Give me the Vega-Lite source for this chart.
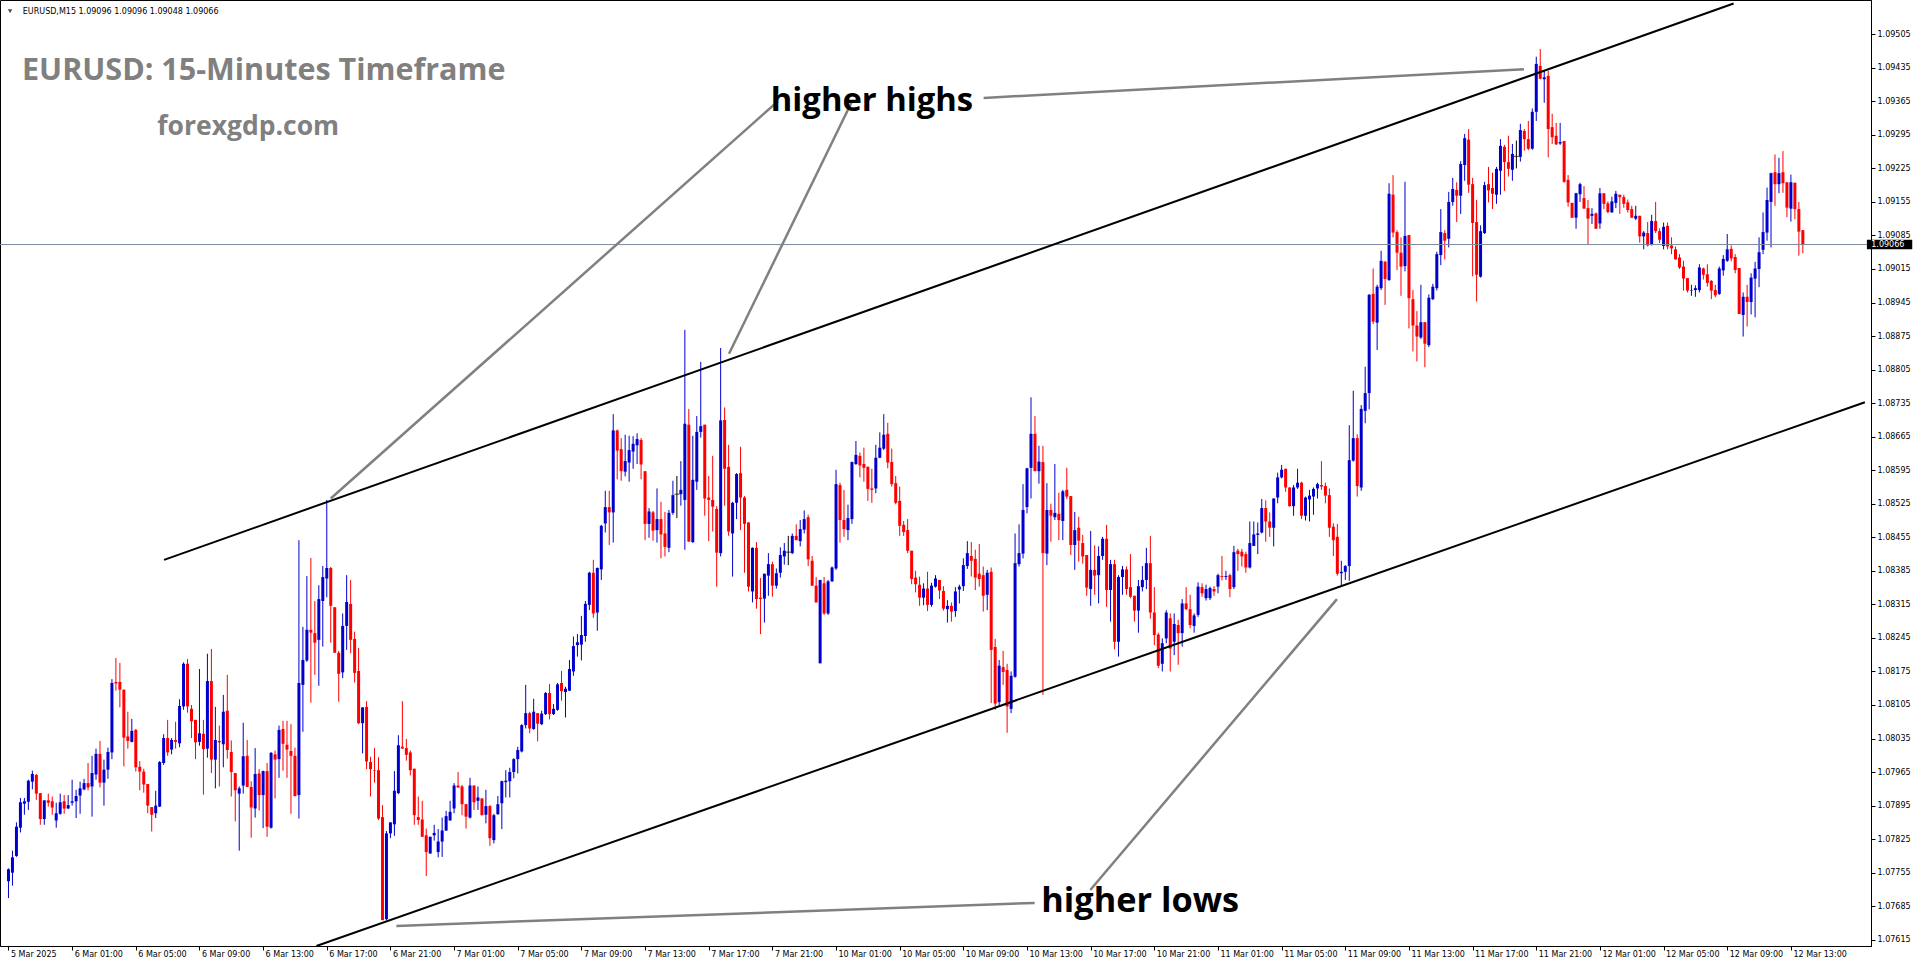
{
"$schema":"https://vega.github.io/schema/vega-lite/v6.json",
"width":1871,"height":946,
"autosize":{"type":"none"},
"padding":{"left":0,"top":0,"right":45,"bottom":18},
"background":"#ffffff",
"config":{"view":{"stroke":"#000000","strokeWidth":1},"axis":{"grid":false,"labelOverlap":false,"labelSeparation":0},"axisY":{"labelOverlap":false},"axisRight":{"labelOverlap":false}},
"datasets":{
"candles":[
{"i":0,"d":"u","o":1.07737,"h":1.07764,"l":1.07702,"c":1.07762},
{"i":1,"d":"u","o":1.07755,"h":1.07801,"l":1.07728,"c":1.07787},
{"i":2,"d":"u","o":1.07790,"h":1.07860,"l":1.07788,"c":1.07851},
{"i":3,"d":"u","o":1.07849,"h":1.07911,"l":1.07839,"c":1.07902},
{"i":4,"d":"u","o":1.07899,"h":1.07911,"l":1.07876,"c":1.07904},
{"i":5,"d":"u","o":1.07903,"h":1.07949,"l":1.07886,"c":1.07947},
{"i":6,"d":"u","o":1.07945,"h":1.07968,"l":1.07929,"c":1.07961},
{"i":7,"d":"d","o":1.07959,"h":1.07961,"l":1.07907,"c":1.07920},
{"i":8,"d":"d","o":1.07921,"h":1.07921,"l":1.07855,"c":1.07867},
{"i":9,"d":"u","o":1.07867,"h":1.07906,"l":1.07855,"c":1.07906},
{"i":10,"d":"d","o":1.07906,"h":1.07920,"l":1.07893,"c":1.07901},
{"i":11,"d":"d","o":1.07904,"h":1.07914,"l":1.07876,"c":1.07891},
{"i":12,"d":"u","o":1.07864,"h":1.07901,"l":1.07849,"c":1.07879},
{"i":13,"d":"u","o":1.07878,"h":1.07920,"l":1.07876,"c":1.07902},
{"i":14,"d":"d","o":1.07904,"h":1.07917,"l":1.07878,"c":1.07889},
{"i":15,"d":"u","o":1.07889,"h":1.07917,"l":1.07888,"c":1.07896},
{"i":16,"d":"u","o":1.07901,"h":1.07949,"l":1.07895,"c":1.07904},
{"i":17,"d":"u","o":1.07904,"h":1.07928,"l":1.07869,"c":1.07915},
{"i":18,"d":"u","o":1.07916,"h":1.07945,"l":1.07878,"c":1.07931},
{"i":19,"d":"u","o":1.07929,"h":1.07951,"l":1.07927,"c":1.07942},
{"i":20,"d":"d","o":1.07942,"h":1.07984,"l":1.07927,"c":1.07933},
{"i":21,"d":"u","o":1.07935,"h":1.07999,"l":1.07872,"c":1.07963},
{"i":22,"d":"u","o":1.07960,"h":1.08014,"l":1.07949,"c":1.08003},
{"i":23,"d":"d","o":1.08003,"h":1.08030,"l":1.07933,"c":1.07943},
{"i":24,"d":"u","o":1.07943,"h":1.07991,"l":1.07895,"c":1.07970},
{"i":25,"d":"u","o":1.07970,"h":1.08016,"l":1.07951,"c":1.08007},
{"i":26,"d":"u","o":1.08006,"h":1.08159,"l":1.07992,"c":1.08151},
{"i":27,"d":"d","o":1.08153,"h":1.08203,"l":1.08135,"c":1.08150},
{"i":28,"d":"d","o":1.08153,"h":1.08193,"l":1.08100,"c":1.08137},
{"i":29,"d":"d","o":1.08137,"h":1.08137,"l":1.07977,"c":1.08037},
{"i":30,"d":"d","o":1.08039,"h":1.08091,"l":1.08014,"c":1.08030},
{"i":31,"d":"u","o":1.08028,"h":1.08076,"l":1.08027,"c":1.08051},
{"i":32,"d":"d","o":1.08053,"h":1.08055,"l":1.07966,"c":1.07975},
{"i":33,"d":"d","o":1.07976,"h":1.07988,"l":1.07927,"c":1.07966},
{"i":34,"d":"d","o":1.07966,"h":1.07972,"l":1.07922,"c":1.07939},
{"i":35,"d":"d","o":1.07940,"h":1.07940,"l":1.07879,"c":1.07895},
{"i":36,"d":"d","o":1.07892,"h":1.07892,"l":1.07841,"c":1.07876},
{"i":37,"d":"u","o":1.07879,"h":1.07926,"l":1.07869,"c":1.07895},
{"i":38,"d":"u","o":1.07893,"h":1.07988,"l":1.07892,"c":1.07986},
{"i":39,"d":"u","o":1.07984,"h":1.08044,"l":1.07980,"c":1.08036},
{"i":40,"d":"d","o":1.08036,"h":1.08074,"l":1.07999,"c":1.08006},
{"i":41,"d":"u","o":1.08012,"h":1.08036,"l":1.08002,"c":1.08032},
{"i":42,"d":"d","o":1.08032,"h":1.08070,"l":1.08014,"c":1.08028},
{"i":43,"d":"u","o":1.08025,"h":1.08117,"l":1.08017,"c":1.08103},
{"i":44,"d":"u","o":1.08102,"h":1.08194,"l":1.08095,"c":1.08191},
{"i":45,"d":"d","o":1.08191,"h":1.08201,"l":1.08089,"c":1.08102},
{"i":46,"d":"d","o":1.08097,"h":1.08105,"l":1.08036,"c":1.08071},
{"i":47,"d":"d","o":1.08074,"h":1.08074,"l":1.07992,"c":1.08027},
{"i":48,"d":"u","o":1.08028,"h":1.08180,"l":1.08020,"c":1.08046},
{"i":49,"d":"d","o":1.08045,"h":1.08074,"l":1.07918,"c":1.08013},
{"i":50,"d":"u","o":1.08014,"h":1.08212,"l":1.07995,"c":1.08155},
{"i":51,"d":"d","o":1.08155,"h":1.08222,"l":1.07963,"c":1.07991},
{"i":52,"d":"u","o":1.07991,"h":1.08101,"l":1.07931,"c":1.08032},
{"i":53,"d":"d","o":1.08030,"h":1.08062,"l":1.07935,"c":1.08027},
{"i":54,"d":"u","o":1.08023,"h":1.08126,"l":1.07975,"c":1.08091},
{"i":55,"d":"d","o":1.08093,"h":1.08168,"l":1.07993,"c":1.08011},
{"i":56,"d":"d","o":1.08007,"h":1.08031,"l":1.07914,"c":1.07965},
{"i":57,"d":"d","o":1.07963,"h":1.07963,"l":1.07862,"c":1.07927},
{"i":58,"d":"u","o":1.07920,"h":1.07935,"l":1.07801,"c":1.07931},
{"i":59,"d":"u","o":1.07937,"h":1.08068,"l":1.07920,"c":1.07998},
{"i":60,"d":"d","o":1.07999,"h":1.08032,"l":1.07934,"c":1.07934},
{"i":61,"d":"d","o":1.07934,"h":1.07946,"l":1.07828,"c":1.07891},
{"i":62,"d":"u","o":1.07889,"h":1.08015,"l":1.07870,"c":1.07961},
{"i":63,"d":"d","o":1.07962,"h":1.07971,"l":1.07885,"c":1.07917},
{"i":64,"d":"u","o":1.07917,"h":1.07968,"l":1.07848,"c":1.07967},
{"i":65,"d":"d","o":1.07967,"h":1.07984,"l":1.07830,"c":1.07851},
{"i":66,"d":"u","o":1.07849,"h":1.08007,"l":1.07847,"c":1.08005},
{"i":67,"d":"d","o":1.08002,"h":1.08010,"l":1.07910,"c":1.07991},
{"i":68,"d":"u","o":1.07992,"h":1.08062,"l":1.07953,"c":1.08053},
{"i":69,"d":"d","o":1.08055,"h":1.08072,"l":1.07968,"c":1.08024},
{"i":70,"d":"d","o":1.08022,"h":1.08072,"l":1.07953,"c":1.08012},
{"i":71,"d":"d","o":1.08009,"h":1.08065,"l":1.07878,"c":1.07999},
{"i":72,"d":"d","o":1.07999,"h":1.08016,"l":1.07914,"c":1.07915},
{"i":73,"d":"u","o":1.07917,"h":1.08449,"l":1.07868,"c":1.08151},
{"i":74,"d":"u","o":1.08147,"h":1.08268,"l":1.08049,"c":1.08199},
{"i":75,"d":"u","o":1.08198,"h":1.08374,"l":1.08195,"c":1.08262},
{"i":76,"d":"d","o":1.08262,"h":1.08412,"l":1.08110,"c":1.08256},
{"i":77,"d":"d","o":1.08255,"h":1.08322,"l":1.08168,"c":1.08235},
{"i":78,"d":"u","o":1.08241,"h":1.08355,"l":1.08145,"c":1.08326},
{"i":79,"d":"u","o":1.08322,"h":1.08395,"l":1.08227,"c":1.08372},
{"i":80,"d":"u","o":1.08369,"h":1.08533,"l":1.08330,"c":1.08391},
{"i":81,"d":"d","o":1.08391,"h":1.08393,"l":1.08235,"c":1.08312},
{"i":82,"d":"d","o":1.08309,"h":1.08309,"l":1.08214,"c":1.08214},
{"i":83,"d":"d","o":1.08214,"h":1.08218,"l":1.08112,"c":1.08170},
{"i":84,"d":"u","o":1.08173,"h":1.08296,"l":1.08161,"c":1.08270},
{"i":85,"d":"u","o":1.08270,"h":1.08376,"l":1.08220,"c":1.08320},
{"i":86,"d":"d","o":1.08316,"h":1.08366,"l":1.08213,"c":1.08241},
{"i":87,"d":"d","o":1.08243,"h":1.08258,"l":1.08152,"c":1.08172},
{"i":88,"d":"d","o":1.08176,"h":1.08224,"l":1.08065,"c":1.08067},
{"i":89,"d":"u","o":1.08067,"h":1.08100,"l":1.08004,"c":1.08100},
{"i":90,"d":"d","o":1.08101,"h":1.08113,"l":1.07971,"c":1.07987},
{"i":91,"d":"d","o":1.07986,"h":1.07997,"l":1.07914,"c":1.07971},
{"i":92,"d":"d","o":1.07969,"h":1.08015,"l":1.07943,"c":1.07968},
{"i":93,"d":"d","o":1.07969,"h":1.07996,"l":1.07865,"c":1.07868},
{"i":94,"d":"d","o":1.07871,"h":1.07896,"l":1.07656,"c":1.07656},
{"i":95,"d":"u","o":1.07658,"h":1.07842,"l":1.07656,"c":1.07837},
{"i":96,"d":"u","o":1.07837,"h":1.07860,"l":1.07827,"c":1.07860},
{"i":97,"d":"u","o":1.07856,"h":1.07967,"l":1.07832,"c":1.07926},
{"i":98,"d":"u","o":1.07921,"h":1.08042,"l":1.07919,"c":1.08021},
{"i":99,"d":"d","o":1.08018,"h":1.08113,"l":1.08014,"c":1.08014},
{"i":100,"d":"d","o":1.08015,"h":1.08034,"l":1.07989,"c":1.08001},
{"i":101,"d":"d","o":1.08006,"h":1.08010,"l":1.07958,"c":1.07969},
{"i":102,"d":"d","o":1.07972,"h":1.07972,"l":1.07855,"c":1.07875},
{"i":103,"d":"d","o":1.07871,"h":1.07914,"l":1.07855,"c":1.07865},
{"i":104,"d":"d","o":1.07866,"h":1.07905,"l":1.07830,"c":1.07830},
{"i":105,"d":"d","o":1.07833,"h":1.07847,"l":1.07748,"c":1.07798},
{"i":106,"d":"u","o":1.07795,"h":1.07830,"l":1.07795,"c":1.07830},
{"i":107,"d":"u","o":1.07833,"h":1.07855,"l":1.07822,"c":1.07838},
{"i":108,"d":"u","o":1.07798,"h":1.07846,"l":1.07787,"c":1.07820},
{"i":109,"d":"u","o":1.07820,"h":1.07870,"l":1.07788,"c":1.07843},
{"i":110,"d":"u","o":1.07843,"h":1.07884,"l":1.07842,"c":1.07873},
{"i":111,"d":"u","o":1.07864,"h":1.07905,"l":1.07864,"c":1.07882},
{"i":112,"d":"u","o":1.07889,"h":1.07942,"l":1.07879,"c":1.07937},
{"i":113,"d":"d","o":1.07937,"h":1.07965,"l":1.07932,"c":1.07933},
{"i":114,"d":"d","o":1.07935,"h":1.07938,"l":1.07875,"c":1.07898},
{"i":115,"d":"d","o":1.07898,"h":1.07898,"l":1.07847,"c":1.07872},
{"i":116,"d":"u","o":1.07870,"h":1.07953,"l":1.07868,"c":1.07937},
{"i":117,"d":"d","o":1.07937,"h":1.07937,"l":1.07886,"c":1.07902},
{"i":118,"d":"u","o":1.07905,"h":1.07935,"l":1.07886,"c":1.07912},
{"i":119,"d":"d","o":1.07910,"h":1.07910,"l":1.07875,"c":1.07875},
{"i":120,"d":"u","o":1.07876,"h":1.07928,"l":1.07858,"c":1.07894},
{"i":121,"d":"d","o":1.07894,"h":1.07896,"l":1.07811,"c":1.07827},
{"i":122,"d":"u","o":1.07823,"h":1.07878,"l":1.07816,"c":1.07875},
{"i":123,"d":"u","o":1.07877,"h":1.07915,"l":1.07876,"c":1.07898},
{"i":124,"d":"u","o":1.07900,"h":1.07947,"l":1.07846,"c":1.07946},
{"i":125,"d":"u","o":1.07944,"h":1.07969,"l":1.07912,"c":1.07947},
{"i":126,"d":"u","o":1.07946,"h":1.07974,"l":1.07912,"c":1.07965},
{"i":127,"d":"u","o":1.07965,"h":1.07994,"l":1.07952,"c":1.07992},
{"i":128,"d":"u","o":1.07992,"h":1.08018,"l":1.07962,"c":1.08011},
{"i":129,"d":"u","o":1.08008,"h":1.08065,"l":1.08006,"c":1.08063},
{"i":130,"d":"u","o":1.08063,"h":1.08147,"l":1.08056,"c":1.08088},
{"i":131,"d":"d","o":1.08088,"h":1.08091,"l":1.08046,"c":1.08056},
{"i":132,"d":"u","o":1.08055,"h":1.08118,"l":1.08053,"c":1.08091},
{"i":133,"d":"d","o":1.08088,"h":1.08088,"l":1.08029,"c":1.08066},
{"i":134,"d":"u","o":1.08065,"h":1.08093,"l":1.08063,"c":1.08087},
{"i":135,"d":"u","o":1.08086,"h":1.08132,"l":1.08084,"c":1.08130},
{"i":136,"d":"d","o":1.08130,"h":1.08149,"l":1.08075,"c":1.08086},
{"i":137,"d":"u","o":1.08086,"h":1.08107,"l":1.08084,"c":1.08097},
{"i":138,"d":"u","o":1.08095,"h":1.08151,"l":1.08093,"c":1.08148},
{"i":139,"d":"d","o":1.08151,"h":1.08176,"l":1.08114,"c":1.08134},
{"i":140,"d":"u","o":1.08132,"h":1.08143,"l":1.08079,"c":1.08139},
{"i":141,"d":"u","o":1.08135,"h":1.08199,"l":1.08134,"c":1.08180},
{"i":142,"d":"u","o":1.08175,"h":1.08248,"l":1.08166,"c":1.08228},
{"i":143,"d":"u","o":1.08230,"h":1.08253,"l":1.08206,"c":1.08236},
{"i":144,"d":"u","o":1.08231,"h":1.08291,"l":1.08198,"c":1.08251},
{"i":145,"d":"u","o":1.08249,"h":1.08322,"l":1.08237,"c":1.08316},
{"i":146,"d":"u","o":1.08314,"h":1.08383,"l":1.08303,"c":1.08381},
{"i":147,"d":"d","o":1.08381,"h":1.08408,"l":1.08287,"c":1.08296},
{"i":148,"d":"u","o":1.08298,"h":1.08392,"l":1.08260,"c":1.08391},
{"i":149,"d":"u","o":1.08388,"h":1.08481,"l":1.08366,"c":1.08479},
{"i":150,"d":"u","o":1.08484,"h":1.08552,"l":1.08465,"c":1.08518},
{"i":151,"d":"d","o":1.08518,"h":1.08552,"l":1.08439,"c":1.08507},
{"i":152,"d":"u","o":1.08507,"h":1.08712,"l":1.08444,"c":1.08678},
{"i":153,"d":"d","o":1.08678,"h":1.08680,"l":1.08576,"c":1.08636},
{"i":154,"d":"d","o":1.08639,"h":1.08662,"l":1.08573,"c":1.08593},
{"i":155,"d":"u","o":1.08592,"h":1.08669,"l":1.08582,"c":1.08614},
{"i":156,"d":"u","o":1.08611,"h":1.08667,"l":1.08571,"c":1.08637},
{"i":157,"d":"u","o":1.08634,"h":1.08666,"l":1.08598,"c":1.08650},
{"i":158,"d":"u","o":1.08647,"h":1.08672,"l":1.08608,"c":1.08660},
{"i":159,"d":"d","o":1.08658,"h":1.08662,"l":1.08576,"c":1.08607},
{"i":160,"d":"d","o":1.08593,"h":1.08593,"l":1.08449,"c":1.08483},
{"i":161,"d":"u","o":1.08483,"h":1.08516,"l":1.08454,"c":1.08509},
{"i":162,"d":"d","o":1.08507,"h":1.08510,"l":1.08448,"c":1.08469},
{"i":163,"d":"u","o":1.08470,"h":1.08557,"l":1.08444,"c":1.08493},
{"i":164,"d":"d","o":1.08493,"h":1.08529,"l":1.08411,"c":1.08461},
{"i":165,"d":"d","o":1.08463,"h":1.08508,"l":1.08415,"c":1.08435},
{"i":166,"d":"u","o":1.08433,"h":1.08512,"l":1.08424,"c":1.08506},
{"i":167,"d":"u","o":1.08506,"h":1.08573,"l":1.08502,"c":1.08543},
{"i":168,"d":"z","o":1.08545,"h":1.08583,"l":1.08495,"c":1.08545},
{"i":169,"d":"u","o":1.08545,"h":1.08614,"l":1.08521,"c":1.08554},
{"i":170,"d":"u","o":1.08533,"h":1.08888,"l":1.08429,"c":1.08692},
{"i":171,"d":"d","o":1.08690,"h":1.08723,"l":1.08446,"c":1.08446},
{"i":172,"d":"u","o":1.08445,"h":1.08667,"l":1.08443,"c":1.08575},
{"i":173,"d":"u","o":1.08571,"h":1.08708,"l":1.08554,"c":1.08675},
{"i":174,"d":"u","o":1.08675,"h":1.08821,"l":1.08663,"c":1.08687},
{"i":175,"d":"d","o":1.08690,"h":1.08690,"l":1.08500,"c":1.08536},
{"i":176,"d":"d","o":1.08538,"h":1.08583,"l":1.08447,"c":1.08533},
{"i":177,"d":"d","o":1.08533,"h":1.08625,"l":1.08467,"c":1.08519},
{"i":178,"d":"d","o":1.08514,"h":1.08520,"l":1.08352,"c":1.08423},
{"i":179,"d":"u","o":1.08422,"h":1.08850,"l":1.08415,"c":1.08699},
{"i":180,"d":"d","o":1.08700,"h":1.08726,"l":1.08521,"c":1.08598},
{"i":181,"d":"d","o":1.08602,"h":1.08648,"l":1.08458,"c":1.08467},
{"i":182,"d":"u","o":1.08463,"h":1.08529,"l":1.08373,"c":1.08527},
{"i":183,"d":"u","o":1.08527,"h":1.08589,"l":1.08493,"c":1.08587},
{"i":184,"d":"d","o":1.08589,"h":1.08644,"l":1.08470,"c":1.08538},
{"i":185,"d":"d","o":1.08538,"h":1.08541,"l":1.08381,"c":1.08483},
{"i":186,"d":"d","o":1.08486,"h":1.08486,"l":1.08342,"c":1.08352},
{"i":187,"d":"u","o":1.08342,"h":1.08434,"l":1.08319,"c":1.08433},
{"i":188,"d":"d","o":1.08433,"h":1.08445,"l":1.08306,"c":1.08326},
{"i":189,"d":"d","o":1.08329,"h":1.08370,"l":1.08253,"c":1.08326},
{"i":190,"d":"u","o":1.08327,"h":1.08379,"l":1.08277,"c":1.08379},
{"i":191,"d":"u","o":1.08375,"h":1.08422,"l":1.08333,"c":1.08399},
{"i":192,"d":"d","o":1.08399,"h":1.08404,"l":1.08331,"c":1.08354},
{"i":193,"d":"u","o":1.08354,"h":1.08390,"l":1.08348,"c":1.08380},
{"i":194,"d":"u","o":1.08381,"h":1.08434,"l":1.08371,"c":1.08418},
{"i":195,"d":"u","o":1.08415,"h":1.08443,"l":1.08398,"c":1.08427},
{"i":196,"d":"z","o":1.08424,"h":1.08458,"l":1.08397,"c":1.08424},
{"i":197,"d":"u","o":1.08422,"h":1.08463,"l":1.08420,"c":1.08458},
{"i":198,"d":"d","o":1.08458,"h":1.08482,"l":1.08449,"c":1.08449},
{"i":199,"d":"u","o":1.08447,"h":1.08491,"l":1.08436,"c":1.08472},
{"i":200,"d":"u","o":1.08471,"h":1.08511,"l":1.08463,"c":1.08493},
{"i":201,"d":"d","o":1.08497,"h":1.08502,"l":1.08395,"c":1.08409},
{"i":202,"d":"d","o":1.08406,"h":1.08416,"l":1.08354,"c":1.08354},
{"i":203,"d":"d","o":1.08354,"h":1.08372,"l":1.08319,"c":1.08319},
{"i":204,"d":"u","o":1.08192,"h":1.08366,"l":1.08192,"c":1.08366},
{"i":205,"d":"d","o":1.08359,"h":1.08372,"l":1.08293,"c":1.08296},
{"i":206,"d":"u","o":1.08296,"h":1.08366,"l":1.08293,"c":1.08363},
{"i":207,"d":"u","o":1.08363,"h":1.08394,"l":1.08362,"c":1.08392},
{"i":208,"d":"u","o":1.08390,"h":1.08596,"l":1.08387,"c":1.08566},
{"i":209,"d":"d","o":1.08564,"h":1.08569,"l":1.08444,"c":1.08491},
{"i":210,"d":"d","o":1.08491,"h":1.08554,"l":1.08456,"c":1.08472},
{"i":211,"d":"u","o":1.08470,"h":1.08523,"l":1.08449,"c":1.08495},
{"i":212,"d":"u","o":1.08493,"h":1.08613,"l":1.08483,"c":1.08612},
{"i":213,"d":"u","o":1.08608,"h":1.08656,"l":1.08606,"c":1.08627},
{"i":214,"d":"d","o":1.08625,"h":1.08632,"l":1.08580,"c":1.08605},
{"i":215,"d":"d","o":1.08608,"h":1.08642,"l":1.08571,"c":1.08600},
{"i":216,"d":"d","o":1.08602,"h":1.08603,"l":1.08531,"c":1.08556},
{"i":217,"d":"d","o":1.08557,"h":1.08598,"l":1.08527,"c":1.08554},
{"i":218,"d":"u","o":1.08557,"h":1.08648,"l":1.08547,"c":1.08621},
{"i":219,"d":"u","o":1.08621,"h":1.08674,"l":1.08620,"c":1.08642},
{"i":220,"d":"u","o":1.08640,"h":1.08712,"l":1.08637,"c":1.08669},
{"i":221,"d":"d","o":1.08671,"h":1.08694,"l":1.08599,"c":1.08611},
{"i":222,"d":"d","o":1.08612,"h":1.08640,"l":1.08561,"c":1.08566},
{"i":223,"d":"d","o":1.08568,"h":1.08583,"l":1.08524,"c":1.08527},
{"i":224,"d":"d","o":1.08531,"h":1.08561,"l":1.08458,"c":1.08479},
{"i":225,"d":"d","o":1.08481,"h":1.08489,"l":1.08458,"c":1.08466},
{"i":226,"d":"d","o":1.08470,"h":1.08493,"l":1.08422,"c":1.08427},
{"i":227,"d":"d","o":1.08427,"h":1.08427,"l":1.08357,"c":1.08368},
{"i":228,"d":"d","o":1.08371,"h":1.08385,"l":1.08340,"c":1.08357},
{"i":229,"d":"d","o":1.08356,"h":1.08373,"l":1.08312,"c":1.08329},
{"i":230,"d":"u","o":1.08329,"h":1.08359,"l":1.08313,"c":1.08348},
{"i":231,"d":"d","o":1.08348,"h":1.08383,"l":1.08301,"c":1.08314},
{"i":232,"d":"u","o":1.08314,"h":1.08360,"l":1.08310,"c":1.08354},
{"i":233,"d":"u","o":1.08352,"h":1.08376,"l":1.08350,"c":1.08369},
{"i":234,"d":"d","o":1.08366,"h":1.08366,"l":1.08326,"c":1.08344},
{"i":235,"d":"d","o":1.08343,"h":1.08353,"l":1.08302,"c":1.08306},
{"i":236,"d":"u","o":1.08305,"h":1.08324,"l":1.08277,"c":1.08312},
{"i":237,"d":"d","o":1.08312,"h":1.08319,"l":1.08279,"c":1.08300},
{"i":238,"d":"u","o":1.08301,"h":1.08351,"l":1.08289,"c":1.08342},
{"i":239,"d":"u","o":1.08346,"h":1.08356,"l":1.08317,"c":1.08352},
{"i":240,"d":"u","o":1.08353,"h":1.08411,"l":1.08343,"c":1.08397},
{"i":241,"d":"u","o":1.08395,"h":1.08447,"l":1.08389,"c":1.08422},
{"i":242,"d":"d","o":1.08416,"h":1.08445,"l":1.08373,"c":1.08406},
{"i":243,"d":"d","o":1.08410,"h":1.08429,"l":1.08345,"c":1.08371},
{"i":244,"d":"d","o":1.08379,"h":1.08441,"l":1.08352,"c":1.08368},
{"i":245,"d":"d","o":1.08376,"h":1.08394,"l":1.08300,"c":1.08333},
{"i":246,"d":"u","o":1.08335,"h":1.08387,"l":1.08303,"c":1.08381},
{"i":247,"d":"d","o":1.08383,"h":1.08392,"l":1.08109,"c":1.08220},
{"i":248,"d":"d","o":1.08226,"h":1.08243,"l":1.08095,"c":1.08108},
{"i":249,"d":"u","o":1.08111,"h":1.08199,"l":1.08102,"c":1.08187},
{"i":250,"d":"d","o":1.08184,"h":1.08218,"l":1.08147,"c":1.08174},
{"i":251,"d":"d","o":1.08178,"h":1.08191,"l":1.08047,"c":1.08102},
{"i":252,"d":"u","o":1.08097,"h":1.08175,"l":1.08088,"c":1.08166},
{"i":253,"d":"u","o":1.08164,"h":1.08463,"l":1.08162,"c":1.08401},
{"i":254,"d":"u","o":1.08399,"h":1.08482,"l":1.08394,"c":1.08422},
{"i":255,"d":"u","o":1.08421,"h":1.08566,"l":1.08411,"c":1.08512},
{"i":256,"d":"u","o":1.08518,"h":1.08600,"l":1.08505,"c":1.08599},
{"i":257,"d":"u","o":1.08600,"h":1.08747,"l":1.08536,"c":1.08671},
{"i":258,"d":"d","o":1.08671,"h":1.08708,"l":1.08593,"c":1.08593},
{"i":259,"d":"u","o":1.08593,"h":1.08646,"l":1.08567,"c":1.08613},
{"i":260,"d":"d","o":1.08612,"h":1.08646,"l":1.08126,"c":1.08422},
{"i":261,"d":"u","o":1.08421,"h":1.08568,"l":1.08397,"c":1.08512},
{"i":262,"d":"d","o":1.08512,"h":1.08525,"l":1.08446,"c":1.08500},
{"i":263,"d":"u","o":1.08497,"h":1.08608,"l":1.08491,"c":1.08506},
{"i":264,"d":"d","o":1.08504,"h":1.08548,"l":1.08449,"c":1.08491},
{"i":265,"d":"u","o":1.08489,"h":1.08554,"l":1.08449,"c":1.08551},
{"i":266,"d":"d","o":1.08554,"h":1.08600,"l":1.08535,"c":1.08540},
{"i":267,"d":"d","o":1.08541,"h":1.08541,"l":1.08418,"c":1.08439},
{"i":268,"d":"u","o":1.08439,"h":1.08508,"l":1.08387,"c":1.08470},
{"i":269,"d":"d","o":1.08475,"h":1.08498,"l":1.08404,"c":1.08448},
{"i":270,"d":"d","o":1.08443,"h":1.08460,"l":1.08400,"c":1.08415},
{"i":271,"d":"d","o":1.08418,"h":1.08418,"l":1.08333,"c":1.08350},
{"i":272,"d":"u","o":1.08347,"h":1.08468,"l":1.08312,"c":1.08387},
{"i":273,"d":"d","o":1.08387,"h":1.08438,"l":1.08335,"c":1.08375},
{"i":274,"d":"u","o":1.08376,"h":1.08436,"l":1.08317,"c":1.08416},
{"i":275,"d":"u","o":1.08416,"h":1.08456,"l":1.08408,"c":1.08452},
{"i":276,"d":"d","o":1.08452,"h":1.08481,"l":1.08310,"c":1.08345},
{"i":277,"d":"u","o":1.08345,"h":1.08408,"l":1.08279,"c":1.08399},
{"i":278,"d":"d","o":1.08399,"h":1.08408,"l":1.08221,"c":1.08237},
{"i":279,"d":"u","o":1.08237,"h":1.08376,"l":1.08206,"c":1.08372},
{"i":280,"d":"u","o":1.08372,"h":1.08395,"l":1.08335,"c":1.08388},
{"i":281,"d":"d","o":1.08388,"h":1.08394,"l":1.08335,"c":1.08347},
{"i":282,"d":"d","o":1.08351,"h":1.08420,"l":1.08328,"c":1.08331},
{"i":283,"d":"d","o":1.08333,"h":1.08333,"l":1.08279,"c":1.08302},
{"i":284,"d":"u","o":1.08302,"h":1.08366,"l":1.08256,"c":1.08353},
{"i":285,"d":"u","o":1.08351,"h":1.08395,"l":1.08342,"c":1.08366},
{"i":286,"d":"u","o":1.08366,"h":1.08433,"l":1.08347,"c":1.08401},
{"i":287,"d":"d","o":1.08401,"h":1.08458,"l":1.08285,"c":1.08298},
{"i":288,"d":"d","o":1.08298,"h":1.08351,"l":1.08230,"c":1.08251},
{"i":289,"d":"d","o":1.08252,"h":1.08256,"l":1.08182,"c":1.08187},
{"i":290,"d":"u","o":1.08191,"h":1.08244,"l":1.08175,"c":1.08234},
{"i":291,"d":"u","o":1.08244,"h":1.08303,"l":1.08234,"c":1.08298},
{"i":292,"d":"d","o":1.08286,"h":1.08296,"l":1.08175,"c":1.08223},
{"i":293,"d":"u","o":1.08237,"h":1.08296,"l":1.08209,"c":1.08274},
{"i":294,"d":"d","o":1.08272,"h":1.08283,"l":1.08189,"c":1.08255},
{"i":295,"d":"u","o":1.08255,"h":1.08326,"l":1.08227,"c":1.08317},
{"i":296,"d":"d","o":1.08317,"h":1.08351,"l":1.08303,"c":1.08305},
{"i":297,"d":"d","o":1.08305,"h":1.08335,"l":1.08265,"c":1.08272},
{"i":298,"d":"u","o":1.08270,"h":1.08296,"l":1.08256,"c":1.08292},
{"i":299,"d":"u","o":1.08293,"h":1.08361,"l":1.08289,"c":1.08352},
{"i":300,"d":"d","o":1.08351,"h":1.08359,"l":1.08331,"c":1.08338},
{"i":301,"d":"u","o":1.08328,"h":1.08356,"l":1.08323,"c":1.08347},
{"i":302,"d":"u","o":1.08328,"h":1.08352,"l":1.08324,"c":1.08349},
{"i":303,"d":"d","o":1.08347,"h":1.08353,"l":1.08333,"c":1.08342},
{"i":304,"d":"u","o":1.08352,"h":1.08379,"l":1.08338,"c":1.08376},
{"i":305,"d":"d","o":1.08374,"h":1.08416,"l":1.08365,"c":1.08372},
{"i":306,"d":"u","o":1.08372,"h":1.08385,"l":1.08366,"c":1.08374},
{"i":307,"d":"d","o":1.08376,"h":1.08379,"l":1.08330,"c":1.08347},
{"i":308,"d":"u","o":1.08351,"h":1.08437,"l":1.08347,"c":1.08424},
{"i":309,"d":"d","o":1.08427,"h":1.08431,"l":1.08385,"c":1.08420},
{"i":310,"d":"d","o":1.08425,"h":1.08431,"l":1.08394,"c":1.08415},
{"i":311,"d":"d","o":1.08420,"h":1.08425,"l":1.08381,"c":1.08392},
{"i":312,"d":"u","o":1.08392,"h":1.08488,"l":1.08390,"c":1.08443},
{"i":313,"d":"u","o":1.08437,"h":1.08488,"l":1.08437,"c":1.08461},
{"i":314,"d":"u","o":1.08460,"h":1.08486,"l":1.08420,"c":1.08463},
{"i":315,"d":"u","o":1.08465,"h":1.08535,"l":1.08463,"c":1.08516},
{"i":316,"d":"d","o":1.08516,"h":1.08532,"l":1.08446,"c":1.08488},
{"i":317,"d":"d","o":1.08488,"h":1.08507,"l":1.08456,"c":1.08475},
{"i":318,"d":"u","o":1.08475,"h":1.08536,"l":1.08436,"c":1.08536},
{"i":319,"d":"u","o":1.08538,"h":1.08590,"l":1.08526,"c":1.08580},
{"i":320,"d":"u","o":1.08580,"h":1.08606,"l":1.08578,"c":1.08596},
{"i":321,"d":"d","o":1.08598,"h":1.08598,"l":1.08550,"c":1.08559},
{"i":322,"d":"d","o":1.08559,"h":1.08559,"l":1.08519,"c":1.08520},
{"i":323,"d":"u","o":1.08520,"h":1.08564,"l":1.08500,"c":1.08559},
{"i":324,"d":"u","o":1.08559,"h":1.08598,"l":1.08556,"c":1.08569},
{"i":325,"d":"d","o":1.08569,"h":1.08571,"l":1.08493,"c":1.08500},
{"i":326,"d":"u","o":1.08500,"h":1.08540,"l":1.08490,"c":1.08538},
{"i":327,"d":"u","o":1.08534,"h":1.08554,"l":1.08488,"c":1.08542},
{"i":328,"d":"u","o":1.08540,"h":1.08559,"l":1.08502,"c":1.08556},
{"i":329,"d":"u","o":1.08557,"h":1.08569,"l":1.08536,"c":1.08566},
{"i":330,"d":"d","o":1.08564,"h":1.08614,"l":1.08554,"c":1.08561},
{"i":331,"d":"d","o":1.08562,"h":1.08569,"l":1.08526,"c":1.08542},
{"i":332,"d":"d","o":1.08543,"h":1.08557,"l":1.08456,"c":1.08475},
{"i":333,"d":"d","o":1.08477,"h":1.08484,"l":1.08416,"c":1.08449},
{"i":334,"d":"d","o":1.08456,"h":1.08483,"l":1.08375,"c":1.08379},
{"i":335,"d":"u","o":1.08380,"h":1.08406,"l":1.08352,"c":1.08383},
{"i":336,"d":"u","o":1.08383,"h":1.08397,"l":1.08366,"c":1.08395},
{"i":337,"d":"u","o":1.08395,"h":1.08689,"l":1.08364,"c":1.08616},
{"i":338,"d":"u","o":1.08615,"h":1.08761,"l":1.08613,"c":1.08662},
{"i":339,"d":"d","o":1.08662,"h":1.08670,"l":1.08540,"c":1.08562},
{"i":340,"d":"u","o":1.08559,"h":1.08731,"l":1.08552,"c":1.08723},
{"i":341,"d":"u","o":1.08719,"h":1.08811,"l":1.08693,"c":1.08756},
{"i":342,"d":"u","o":1.08756,"h":1.08963,"l":1.08722,"c":1.08961},
{"i":343,"d":"d","o":1.08963,"h":1.09016,"l":1.08900,"c":1.08905},
{"i":344,"d":"u","o":1.08903,"h":1.08982,"l":1.08846,"c":1.08978},
{"i":345,"d":"u","o":1.08975,"h":1.09053,"l":1.08971,"c":1.09032},
{"i":346,"d":"d","o":1.09030,"h":1.09032,"l":1.08940,"c":1.08994},
{"i":347,"d":"u","o":1.08992,"h":1.09194,"l":1.08990,"c":1.09172},
{"i":348,"d":"d","o":1.09170,"h":1.09211,"l":1.09081,"c":1.09091},
{"i":349,"d":"d","o":1.09092,"h":1.09096,"l":1.09013,"c":1.09049},
{"i":350,"d":"d","o":1.09049,"h":1.09081,"l":1.08959,"c":1.09020},
{"i":351,"d":"u","o":1.09021,"h":1.09197,"l":1.09010,"c":1.09084},
{"i":352,"d":"d","o":1.09086,"h":1.09086,"l":1.08891,"c":1.08954},
{"i":353,"d":"d","o":1.08952,"h":1.08971,"l":1.08843,"c":1.08897},
{"i":354,"d":"d","o":1.08897,"h":1.08927,"l":1.08822,"c":1.08874},
{"i":355,"d":"u","o":1.08872,"h":1.08982,"l":1.08869,"c":1.08904},
{"i":356,"d":"d","o":1.08904,"h":1.08904,"l":1.08810,"c":1.08859},
{"i":357,"d":"u","o":1.08856,"h":1.08962,"l":1.08852,"c":1.08955},
{"i":358,"d":"u","o":1.08952,"h":1.08984,"l":1.08950,"c":1.08978},
{"i":359,"d":"u","o":1.08975,"h":1.09051,"l":1.08970,"c":1.09046},
{"i":360,"d":"u","o":1.09044,"h":1.09140,"l":1.09023,"c":1.09092},
{"i":361,"d":"d","o":1.09090,"h":1.09096,"l":1.09035,"c":1.09074},
{"i":362,"d":"u","o":1.09078,"h":1.09176,"l":1.09060,"c":1.09155},
{"i":363,"d":"u","o":1.09155,"h":1.09205,"l":1.09147,"c":1.09182},
{"i":364,"d":"d","o":1.09180,"h":1.09196,"l":1.09113,"c":1.09168},
{"i":365,"d":"u","o":1.09168,"h":1.09240,"l":1.09130,"c":1.09234},
{"i":366,"d":"u","o":1.09232,"h":1.09297,"l":1.09199,"c":1.09288},
{"i":367,"d":"d","o":1.09285,"h":1.09307,"l":1.09174,"c":1.09191},
{"i":368,"d":"d","o":1.09192,"h":1.09205,"l":1.09000,"c":1.09111},
{"i":369,"d":"d","o":1.09113,"h":1.09159,"l":1.08947,"c":1.09003},
{"i":370,"d":"u","o":1.08999,"h":1.09106,"l":1.08997,"c":1.09094},
{"i":371,"d":"u","o":1.09090,"h":1.09197,"l":1.09088,"c":1.09190},
{"i":372,"d":"d","o":1.09192,"h":1.09228,"l":1.09154,"c":1.09179},
{"i":373,"d":"d","o":1.09184,"h":1.09216,"l":1.09140,"c":1.09172},
{"i":374,"d":"u","o":1.09170,"h":1.09228,"l":1.09151,"c":1.09224},
{"i":375,"d":"u","o":1.09220,"h":1.09286,"l":1.09170,"c":1.09272},
{"i":376,"d":"d","o":1.09270,"h":1.09274,"l":1.09178,"c":1.09238},
{"i":377,"d":"d","o":1.09238,"h":1.09293,"l":1.09208,"c":1.09224},
{"i":378,"d":"u","o":1.09222,"h":1.09276,"l":1.09199,"c":1.09255},
{"i":379,"d":"z","o":1.09250,"h":1.09283,"l":1.09225,"c":1.09250},
{"i":380,"d":"u","o":1.09249,"h":1.09318,"l":1.09239,"c":1.09305},
{"i":381,"d":"d","o":1.09303,"h":1.09307,"l":1.09262,"c":1.09286},
{"i":382,"d":"d","o":1.09286,"h":1.09324,"l":1.09263,"c":1.09266},
{"i":383,"d":"u","o":1.09266,"h":1.09350,"l":1.09264,"c":1.09343},
{"i":384,"d":"u","o":1.09343,"h":1.09458,"l":1.09324,"c":1.09443},
{"i":385,"d":"d","o":1.09439,"h":1.09474,"l":1.09411,"c":1.09412},
{"i":386,"d":"u","o":1.09411,"h":1.09428,"l":1.09362,"c":1.09415},
{"i":387,"d":"d","o":1.09418,"h":1.09429,"l":1.09248,"c":1.09307},
{"i":388,"d":"d","o":1.09311,"h":1.09339,"l":1.09276,"c":1.09290},
{"i":389,"d":"d","o":1.09293,"h":1.09320,"l":1.09274,"c":1.09275},
{"i":390,"d":"u","o":1.09277,"h":1.09320,"l":1.09274,"c":1.09280},
{"i":391,"d":"d","o":1.09282,"h":1.09282,"l":1.09195,"c":1.09197},
{"i":392,"d":"d","o":1.09201,"h":1.09211,"l":1.09145,"c":1.09154},
{"i":393,"d":"d","o":1.09153,"h":1.09153,"l":1.09122,"c":1.09122},
{"i":394,"d":"u","o":1.09122,"h":1.09174,"l":1.09099,"c":1.09173},
{"i":395,"d":"u","o":1.09171,"h":1.09195,"l":1.09155,"c":1.09192},
{"i":396,"d":"d","o":1.09163,"h":1.09188,"l":1.09141,"c":1.09141},
{"i":397,"d":"d","o":1.09142,"h":1.09159,"l":1.09065,"c":1.09120},
{"i":398,"d":"u","o":1.09126,"h":1.09142,"l":1.09109,"c":1.09130},
{"i":399,"d":"d","o":1.09131,"h":1.09133,"l":1.09099,"c":1.09099},
{"i":400,"d":"u","o":1.09110,"h":1.09184,"l":1.09099,"c":1.09173},
{"i":401,"d":"d","o":1.09173,"h":1.09173,"l":1.09140,"c":1.09151},
{"i":402,"d":"d","o":1.09152,"h":1.09156,"l":1.09131,"c":1.09134},
{"i":403,"d":"u","o":1.09133,"h":1.09166,"l":1.09133,"c":1.09156},
{"i":404,"d":"u","o":1.09153,"h":1.09178,"l":1.09142,"c":1.09172},
{"i":405,"d":"d","o":1.09170,"h":1.09170,"l":1.09130,"c":1.09165},
{"i":406,"d":"d","o":1.09165,"h":1.09170,"l":1.09143,"c":1.09151},
{"i":407,"d":"d","o":1.09154,"h":1.09160,"l":1.09133,"c":1.09138},
{"i":408,"d":"d","o":1.09140,"h":1.09147,"l":1.09122,"c":1.09122},
{"i":409,"d":"u","o":1.09120,"h":1.09147,"l":1.09117,"c":1.09126},
{"i":410,"d":"d","o":1.09126,"h":1.09126,"l":1.09070,"c":1.09083},
{"i":411,"d":"u","o":1.09083,"h":1.09094,"l":1.09056,"c":1.09091},
{"i":412,"d":"d","o":1.09090,"h":1.09113,"l":1.09062,"c":1.09064},
{"i":413,"d":"u","o":1.09067,"h":1.09128,"l":1.09064,"c":1.09115},
{"i":414,"d":"d","o":1.09115,"h":1.09155,"l":1.09090,"c":1.09094},
{"i":415,"d":"d","o":1.09094,"h":1.09100,"l":1.09069,"c":1.09076},
{"i":416,"d":"u","o":1.09063,"h":1.09112,"l":1.09056,"c":1.09103},
{"i":417,"d":"d","o":1.09105,"h":1.09112,"l":1.09056,"c":1.09062},
{"i":418,"d":"d","o":1.09064,"h":1.09081,"l":1.09046,"c":1.09058},
{"i":419,"d":"d","o":1.09056,"h":1.09062,"l":1.09035,"c":1.09035},
{"i":420,"d":"d","o":1.09039,"h":1.09046,"l":1.09015,"c":1.09018},
{"i":421,"d":"d","o":1.09020,"h":1.09032,"l":1.08970,"c":1.08995},
{"i":422,"d":"d","o":1.08996,"h":1.08996,"l":1.08966,"c":1.08970},
{"i":423,"d":"u","o":1.08970,"h":1.08982,"l":1.08959,"c":1.08971},
{"i":424,"d":"u","o":1.08971,"h":1.08981,"l":1.08957,"c":1.08975},
{"i":425,"d":"u","o":1.08971,"h":1.09025,"l":1.08966,"c":1.09018},
{"i":426,"d":"d","o":1.09016,"h":1.09018,"l":1.08993,"c":1.09003},
{"i":427,"d":"d","o":1.09004,"h":1.09025,"l":1.08978,"c":1.08986},
{"i":428,"d":"d","o":1.08990,"h":1.08992,"l":1.08952,"c":1.08970},
{"i":429,"d":"d","o":1.08971,"h":1.08982,"l":1.08956,"c":1.08960},
{"i":430,"d":"u","o":1.08963,"h":1.09020,"l":1.08961,"c":1.09016},
{"i":431,"d":"u","o":1.09012,"h":1.09044,"l":1.09001,"c":1.09036},
{"i":432,"d":"u","o":1.09032,"h":1.09088,"l":1.09030,"c":1.09056},
{"i":433,"d":"d","o":1.09057,"h":1.09064,"l":1.09031,"c":1.09037},
{"i":434,"d":"d","o":1.09040,"h":1.09046,"l":1.09006,"c":1.09013},
{"i":435,"d":"d","o":1.09017,"h":1.09017,"l":1.08921,"c":1.08921},
{"i":436,"d":"u","o":1.08919,"h":1.08966,"l":1.08874,"c":1.08957},
{"i":437,"d":"d","o":1.08957,"h":1.08982,"l":1.08895,"c":1.08946},
{"i":438,"d":"u","o":1.08946,"h":1.09006,"l":1.08920,"c":1.08997},
{"i":439,"d":"u","o":1.08995,"h":1.09030,"l":1.08914,"c":1.09016},
{"i":440,"d":"u","o":1.09015,"h":1.09081,"l":1.08977,"c":1.09050},
{"i":441,"d":"u","o":1.09055,"h":1.09133,"l":1.09046,"c":1.09092},
{"i":442,"d":"u","o":1.09091,"h":1.09185,"l":1.09074,"c":1.09159},
{"i":443,"d":"u","o":1.09155,"h":1.09216,"l":1.09060,"c":1.09215},
{"i":444,"d":"d","o":1.09217,"h":1.09254,"l":1.09147,"c":1.09192},
{"i":445,"d":"u","o":1.09192,"h":1.09247,"l":1.09173,"c":1.09215},
{"i":446,"d":"d","o":1.09217,"h":1.09261,"l":1.09174,"c":1.09194},
{"i":447,"d":"d","o":1.09196,"h":1.09196,"l":1.09123,"c":1.09143},
{"i":448,"d":"u","o":1.09141,"h":1.09212,"l":1.09114,"c":1.09196},
{"i":449,"d":"d","o":1.09195,"h":1.09195,"l":1.09119,"c":1.09140},
{"i":450,"d":"d","o":1.09140,"h":1.09155,"l":1.09043,"c":1.09093},
{"i":451,"d":"d","o":1.09096,"h":1.09096,"l":1.09048,"c":1.09066}
],
"channel":[
{"i":39.1,"p":1.08408,"i2":433.6,"p2":1.09569},
{"i":77.4,"p":1.07602,"i2":466.6,"p2":1.08737}
],
"pointers":[
{"i":81.0,"p":1.08536,"i2":193.4,"p2":1.09365},
{"i":181.1,"p":1.08838,"i2":212.1,"p2":1.09366},
{"i":245.1,"p":1.09372,"i2":380.9,"p2":1.09432},
{"i":333.9,"p":1.08326,"i2":271.9,"p2":1.07719},
{"i":97.5,"p":1.07644,"i2":257.9,"p2":1.07692}
]
},
"layer":[
{"data":{"name":"candles"},
 "mark":{"type":"rule","strokeWidth":1},
 "encoding":{
  "x":{"field":"i","type":"quantitative","scale":{"domain":[-0.875,466.875],"nice":false,"zero":false},
   "axis":{"orient":"bottom","values":[0,16,32,48,64,80,96,112,128,144,160,176,192,208,224,240,256,272,288,304,320,336,352,368,384,400,416,432,448],
    "labelExpr":"['5 Mar 2025','6 Mar 01:00','6 Mar 05:00','6 Mar 09:00','6 Mar 13:00','6 Mar 17:00','6 Mar 21:00','7 Mar 01:00','7 Mar 05:00','7 Mar 09:00','7 Mar 13:00','7 Mar 17:00','7 Mar 21:00','10 Mar 01:00','10 Mar 05:00','10 Mar 09:00','10 Mar 13:00','10 Mar 17:00','10 Mar 21:00','11 Mar 01:00','11 Mar 05:00','11 Mar 09:00','11 Mar 13:00','11 Mar 17:00','11 Mar 21:00','12 Mar 01:00','12 Mar 05:00','12 Mar 09:00','12 Mar 13:00'][round(datum.value/16)]",
    "labelAlign":"left","labelOffset":2,"labelPadding":0,"labelFont":"DejaVu Sans","labelFontSize":8,"labelColor":"#000000",
    "labelOverlap":false,"labelBound":false,"labelFlush":false,"tickColor":"#000000","tickSize":4,"domainColor":"#000000","title":null,"grid":false}},
  "y":{"field":"l","type":"quantitative","scale":{"domain":[1.07602,1.095764],"nice":false,"zero":false},
   "axis":{"orient":"right","values":[1.07615,1.07685,1.07755,1.07825,1.07895,1.07965,1.08035,1.08105,1.08175,1.08245,1.08315,1.08385,1.08455,1.08525,1.08595,1.08665,1.08735,1.08805,1.08875,1.08945,1.09015,1.09085,1.09155,1.09225,1.09295,1.09365,1.09435,1.09505],
    "tickCount":28,"format":".5f","labelFont":"DejaVu Sans","labelFontSize":8,"labelColor":"#000000","labelPadding":2,"labelOverlap":false,"labelBound":false,"labelFlush":false,
    "tickColor":"#000000","tickSize":4,"domainColor":"#000000","title":null,"grid":false}},
  "y2":{"field":"h"},
  "color":{"field":"d","type":"nominal","scale":{"domain":["u","d","z"],"range":["#0000cd","#ff0000","#000000"]},"legend":null}}},
{"data":{"name":"candles"},
 "mark":{"type":"bar","size":3,"cornerRadius":0},
 "encoding":{
  "x":{"field":"i","type":"quantitative","scale":{"domain":[-0.875,466.875],"nice":false,"zero":false}},
  "y":{"field":"o","type":"quantitative","scale":{"domain":[1.07602,1.095764],"nice":false,"zero":false}},
  "y2":{"field":"c"},
  "color":{"field":"d","type":"nominal","legend":null}}},
{"data":{"name":"candles"},
 "transform":[{"filter":"datum.d === 'z'"}],
 "mark":{"type":"tick","orient":"horizontal","size":5,"thickness":1,"color":"#000000"},
 "encoding":{
  "x":{"field":"i","type":"quantitative","scale":{"domain":[-0.875,466.875],"nice":false,"zero":false}},
  "y":{"field":"o","type":"quantitative","scale":{"domain":[1.07602,1.095764],"nice":false,"zero":false}}}},
{"data":{"values":[{"p":1.09066}]},
 "mark":{"type":"rule","color":"#7b8a9a","strokeWidth":1},
 "encoding":{"y":{"field":"p","type":"quantitative","scale":{"domain":[1.07602,1.095764],"nice":false,"zero":false}}}},
{"data":{"name":"channel"},
 "mark":{"type":"rule","color":"#000000","strokeWidth":2},
 "encoding":{
  "x":{"field":"i","type":"quantitative","scale":{"domain":[-0.875,466.875],"nice":false,"zero":false}},
  "y":{"field":"p","type":"quantitative","scale":{"domain":[1.07602,1.095764],"nice":false,"zero":false}},
  "x2":{"field":"i2"},"y2":{"field":"p2"}}},
{"data":{"name":"pointers"},
 "mark":{"type":"rule","color":"#808080","strokeWidth":2.5},
 "encoding":{
  "x":{"field":"i","type":"quantitative","scale":{"domain":[-0.875,466.875],"nice":false,"zero":false}},
  "y":{"field":"p","type":"quantitative","scale":{"domain":[1.07602,1.095764],"nice":false,"zero":false}},
  "x2":{"field":"i2"},"y2":{"field":"p2"}}},
{"data":{"values":[{"t":"EURUSD: 15-Minutes Timeframe","i":3.4,"p":1.09409}]},
 "mark":{"type":"text","align":"left","baseline":"alphabetic","font":"Open Sans","fontWeight":"bold","fontSize":30.5,"color":"#808080"},
 "encoding":{
  "x":{"field":"i","type":"quantitative","scale":{"domain":[-0.875,466.875],"nice":false,"zero":false}},
  "y":{"field":"p","type":"quantitative","scale":{"domain":[1.07602,1.095764],"nice":false,"zero":false}},
  "text":{"field":"t"}}},
{"data":{"values":[{"t":"forexgdp.com","i":37.4,"p":1.09295}]},
 "mark":{"type":"text","align":"left","baseline":"alphabetic","font":"Open Sans","fontWeight":"bold","fontSize":26.5,"color":"#808080"},
 "encoding":{
  "x":{"field":"i","type":"quantitative","scale":{"domain":[-0.875,466.875],"nice":false,"zero":false}},
  "y":{"field":"p","type":"quantitative","scale":{"domain":[1.07602,1.095764],"nice":false,"zero":false}},
  "text":{"field":"t"}}},
{"data":{"values":[{"t":"higher highs","i":191.6,"p":1.09345}]},
 "mark":{"type":"text","align":"left","baseline":"alphabetic","font":"Open Sans","fontWeight":"bold","fontSize":32.8,"color":"#000000"},
 "encoding":{
  "x":{"field":"i","type":"quantitative","scale":{"domain":[-0.875,466.875],"nice":false,"zero":false}},
  "y":{"field":"p","type":"quantitative","scale":{"domain":[1.07602,1.095764],"nice":false,"zero":false}},
  "text":{"field":"t"}}},
{"data":{"values":[{"t":"higher lows","i":259.6,"p":1.07673}]},
 "mark":{"type":"text","align":"left","baseline":"alphabetic","font":"Open Sans","fontWeight":"bold","fontSize":34.3,"color":"#000000"},
 "encoding":{
  "x":{"field":"i","type":"quantitative","scale":{"domain":[-0.875,466.875],"nice":false,"zero":false}},
  "y":{"field":"p","type":"quantitative","scale":{"domain":[1.07602,1.095764],"nice":false,"zero":false}},
  "text":{"field":"t"}}},
{"data":{"values":[{"t":"EURUSD,M15  1.09096 1.09096 1.09048 1.09066","i":3.6,"p":1.09547}]},
 "mark":{"type":"text","align":"left","baseline":"alphabetic","font":"DejaVu Sans","fontSize":8,"color":"#000000"},
 "encoding":{
  "x":{"field":"i","type":"quantitative","scale":{"domain":[-0.875,466.875],"nice":false,"zero":false}},
  "y":{"field":"p","type":"quantitative","scale":{"domain":[1.07602,1.095764],"nice":false,"zero":false}},
  "text":{"field":"t"}}},
{"data":{"values":[{"i":0.4,"p":1.09553}]},
 "mark":{"type":"point","shape":"triangle-down","filled":true,"size":20,"color":"#000000"},
 "encoding":{
  "x":{"field":"i","type":"quantitative","scale":{"domain":[-0.875,466.875],"nice":false,"zero":false}},
  "y":{"field":"p","type":"quantitative","scale":{"domain":[1.07602,1.095764],"nice":false,"zero":false}}}},
{"data":{"values":[{"i":467.1,"i2":478.5,"p":1.09076,"p2":1.09056}]},
 "mark":{"type":"rect","color":"#000000"},
 "encoding":{
  "x":{"field":"i","type":"quantitative","scale":{"domain":[-0.875,466.875],"nice":false,"zero":false}},
  "x2":{"field":"i2"},
  "y":{"field":"p","type":"quantitative","scale":{"domain":[1.07602,1.095764],"nice":false,"zero":false}},
  "y2":{"field":"p2"}}},
{"data":{"values":[{"t":"1.09066","i":468.2,"p":1.09066}]},
 "mark":{"type":"text","align":"left","baseline":"middle","font":"DejaVu Sans","fontSize":8,"color":"#ffffff"},
 "encoding":{
  "x":{"field":"i","type":"quantitative","scale":{"domain":[-0.875,466.875],"nice":false,"zero":false}},
  "y":{"field":"p","type":"quantitative","scale":{"domain":[1.07602,1.095764],"nice":false,"zero":false}},
  "text":{"field":"t"}}}
]
}
